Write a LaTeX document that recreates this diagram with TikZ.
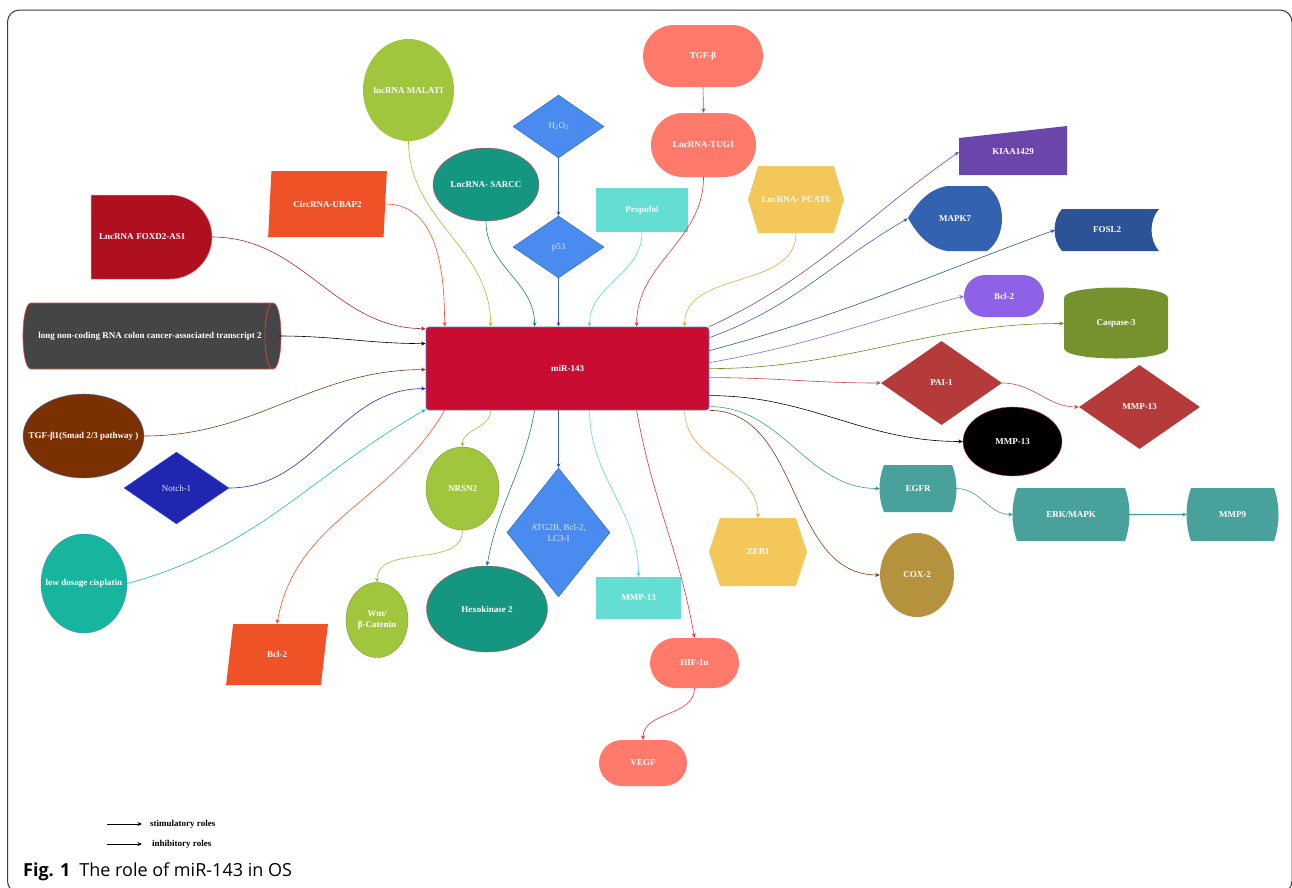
\documentclass[tikz,border=0pt]{standalone}
\usepackage{fontspec}
\setmainfont{Liberation Serif}
\newfontfamily\captionfont{Open Sans}
\usetikzlibrary{shapes.geometric,shapes.misc,shapes.symbols,arrows.meta}

\definecolor{mirred}{HTML}{C80C32}
\definecolor{miredge}{HTML}{5B7FD6}
\definecolor{limegreen}{HTML}{A0C63E}
\definecolor{limeedge}{HTML}{7A9A2A}
\definecolor{limeline}{HTML}{9AC03A}
\definecolor{skyblue}{HTML}{4A8BF0}
\definecolor{skyedge}{HTML}{2F5FB0}
\definecolor{skyline}{HTML}{3D5FA8}
\definecolor{seateal}{HTML}{149680}
\definecolor{tealline}{HTML}{1F7A8C}
\definecolor{salmon}{HTML}{FF7A6A}
\definecolor{salmonline}{HTML}{D8383A}
\definecolor{turq}{HTML}{64DDD2}
\definecolor{turqline}{HTML}{5ED6D0}
\definecolor{mustard}{HTML}{F3C75A}
\definecolor{mustardline}{HTML}{E0A640}
\definecolor{orangered}{HTML}{F05228}
\definecolor{foxdred}{HTML}{AE1020}
\definecolor{foxdedge}{HTML}{E88890}
\definecolor{foxdline}{HTML}{B0203A}
\definecolor{lncgrey}{HTML}{454545}
\definecolor{thinred}{HTML}{E04848}
\definecolor{smadbrown}{HTML}{7A3000}
\definecolor{brownline}{HTML}{7A3A12}
\definecolor{ovaledge}{HTML}{4A80E0}
\definecolor{notchblue}{HTML}{2026B0}
\definecolor{notchedge}{HTML}{3A60E0}
\definecolor{notchline}{HTML}{2A2AB8}
\definecolor{cisteal}{HTML}{18B59E}
\definecolor{cisline}{HTML}{20B8A0}
\definecolor{kiaapurple}{HTML}{6A45AA}
\definecolor{kiaaline}{HTML}{7A40B8}
\definecolor{mapkblue}{HTML}{3362B0}
\definecolor{foslblue}{HTML}{2B5396}
\definecolor{bclpurple}{HTML}{8E62E6}
\definecolor{casolive}{HTML}{76922E}
\definecolor{casline}{HTML}{6A8A20}
\definecolor{paired}{HTML}{B53A3A}
\definecolor{pailine}{HTML}{C04848}
\definecolor{egfrteal}{HTML}{48A19A}
\definecolor{egfrline}{HTML}{3A9A95}
\definecolor{coxgold}{HTML}{B5923E}
\definecolor{paletext}{HTML}{DCE6FF}
\definecolor{framegrey}{HTML}{3A3A3A}

\newcommand{\tight}[1]{\makebox[0pt]{#1}}

\begin{document}
\begin{tikzpicture}[x=1pt,y=-1pt,
  txt/.style={text=white,font=\bfseries\fontsize{9}{11}\selectfont,inner sep=1pt,align=center},
  pale/.style={text=paletext,font=\fontsize{9}{11}\selectfont,inner sep=1pt,align=center},
  arr/.style={-{Stealth[length=4.5pt,width=4pt]},line width=0.6pt},
  pill/.style={rounded rectangle},
  hexa/.style={signal,signal from=nowhere,signal to=east and west,signal pointer angle=#1},
  slanted/.style={trapezium,trapezium left angle=#1,trapezium stretches=true},
  legendtxt/.style={anchor=west,inner sep=0pt,font=\bfseries\fontsize{9}{10}\selectfont},
]
	% Set the page to the size of the figure
	\useasboundingbox (0,0) rectangle (1292,887);

	% Rounded frame round the figure
	\draw[framegrey, line width=1pt, rounded corners=12pt] (7.5,10) rectangle (1292,893);

	% Shapes that TikZ has no node for: drawn first, labels go on top
	% LncRNA FOXD2-AS1 (D shape)
	\filldraw[fill=foxdred, draw=foxdedge, line width=0.5pt] (91,195) -- (170,195) .. controls (193,195) and (212,214) .. (212,237) .. controls (212,260) and (193,279) .. (170,279) -- (91,279) -- cycle;
	% Lying cylinder
	\filldraw[fill=lncgrey, draw=thinred, line width=0.6pt] (31,303) -- (273,303) .. controls (283.7,303) and (283.7,369) .. (273,369) -- (31,369) .. controls (20.3,369) and (20.3,303) .. (31,303) -- cycle;
	\draw[thinred, line width=0.6pt] (273,303) .. controls (262.3,303) and (262.3,369) .. (273,369);
	% KIAA1429 (slanted top)
	\fill[kiaapurple] (959,138) -- (1067,126) -- (1067,175) -- (959,175) -- cycle;
	% MAPK7 (display)
	\fill[mapkblue] (908,218) .. controls (918,201) and (930,189) .. (947,186) -- (987,186) .. controls (1007,200) and (1007,237) .. (987,251) -- (947,251) .. controls (930,248) and (918,236) .. (908,218) -- cycle;
	% FOSL2 (stored data)
	\fill[foslblue] (1062,209) -- (1159,209) .. controls (1149,220) and (1149,240) .. (1159,251) -- (1062,251) .. controls (1052,240) and (1052,220) .. (1062,209) -- cycle;
	% Caspase-3 (standing cylinder)
	\fill[casolive] (1064,298) .. controls (1064,284) and (1168,284) .. (1168,298) -- (1168,348) .. controls (1168,362) and (1064,362) .. (1064,348) -- cycle;
	% EGFR, ERK/MAPK, MMP9 (boxes with bulging ends)
	\fill[egfrteal] (884,465) -- (952,465) .. controls (958,480) and (958,497) .. (952,512) -- (884,512) .. controls (878,497) and (878,480) .. (884,465) -- cycle;
	\fill[egfrteal] (1017,488) -- (1125,488) .. controls (1131,505) and (1131,524) .. (1125,541) -- (1017,541) .. controls (1011,524) and (1011,505) .. (1017,488) -- cycle;
	\fill[egfrteal] (1191,488) -- (1274,488) .. controls (1280,505) and (1280,524) .. (1274,541) -- (1191,541) .. controls (1185,524) and (1185,505) .. (1191,488) -- cycle;

	% Centre
	\node[txt, rectangle, rounded corners=3pt, fill=mirred, draw=miredge, line width=0.8pt, minimum width=283pt, minimum height=83pt] (mir) at (567.5,368.5) {miR-143};

	% Top row
	\node[txt, ellipse, fill=limegreen, minimum width=91pt, minimum height=102pt] (malat) at (408.5,90) {\tight{lncRNA MALATI}};
	\node[pale, diamond, fill=skyblue, draw=skyedge, minimum width=91pt, minimum height=63pt] (hoo) at (558.5,126.5) {H\textsubscript{2}O\textsubscript{2}};
	\node[pale, diamond, fill=skyblue, draw=skyedge, minimum width=91pt, minimum height=62pt] (p53) at (558.5,247) {p53};
	\node[txt, ellipse, fill=seateal, draw=thinred, minimum width=106pt, minimum height=73pt] (sarcc) at (486,184.5) {\tight{LncRNA- SARCC}};
	\node[txt, pill, fill=salmon, minimum width=122pt, minimum height=62pt] (tgfb) at (703,56) {TGF-β};
	\node[txt, pill, fill=salmon, minimum width=107pt, minimum height=64pt] (tug) at (703.5,145) {\tight{LncRNA-TUG1}};
	\node[txt, rectangle, fill=turq, minimum width=92pt, minimum height=44pt] (propofol) at (642,210) {Propofol};
	\node[txt, hexa=146, fill=mustard, minimum width=96pt, minimum height=67pt] (pcat) at (796,199.5) {LncRNA- PCAT6};
	\node[txt, slanted=76, trapezium right angle=104, fill=orangered, minimum width=119pt, minimum height=66pt] (circ) at (327.5,204) {CircRNA-UBAP2};
	\node[txt, minimum width=121pt, minimum height=84pt, text width=105pt, align=left] (foxd) at (151.5,237) {LncRNA FOXD2-AS1};

	% Left column
	\node[txt, minimum width=258pt, minimum height=66pt] (lncc) at (150,336) {long non-coding RNA colon cancer-associated transcript 2};
	\node[txt, ellipse, fill=smadbrown, draw=ovaledge, minimum width=121pt, minimum height=84pt] (smad) at (83.5,436) {\tight{TGF-β1(Smad 2/3 pathway )}};
	\node[pale, diamond, fill=notchblue, draw=notchedge, minimum width=105pt, minimum height=72pt] (notch) at (176.5,488) {Notch-1};
	\node[txt, ellipse, fill=cisteal, draw=ovaledge, minimum width=86pt, minimum height=99pt] (cis) at (84,583.5) {\tight{low dosage cisplatin}};

	% Right side
	\node[txt, minimum width=108pt, minimum height=49pt] (kiaa) at (1013,152) {KIAA1429};
	\node[txt, minimum width=94pt, minimum height=65pt] (mapk) at (955,218.5) {MAPK7};
	\node[txt, minimum width=104pt, minimum height=42pt] (fosl) at (1107,230) {FOSL2};
	\node[txt, pill, fill=bclpurple, minimum width=82pt, minimum height=42pt] (bclup) at (1004,296) {Bcl-2};
	\node[txt, minimum width=104pt, minimum height=69pt] (casp) at (1116,323.5) {Caspase-3};
	\node[txt, diamond, fill=paired, minimum width=121pt, minimum height=84pt] (pai) at (941.5,383) {PAI-1};
	\node[txt, diamond, fill=paired, minimum width=121pt, minimum height=84pt] (mmpd) at (1139.5,407) {MMP-13};
	\node[txt, ellipse, fill=black, draw=thinred, minimum width=99pt, minimum height=69pt] (mmpe) at (1012.5,441.5) {MMP-13};
	\node[txt, minimum width=76pt, minimum height=47pt] (egfr) at (918,488.5) {EGFR};
	\node[txt, minimum width=116pt, minimum height=53pt] (erk) at (1071,514.5) {ERK/MAPK};
	\node[txt, minimum width=91pt, minimum height=53pt] (mmpnine) at (1232.5,514.5) {MMP9};
	\node[txt, ellipse, fill=coxgold, minimum width=74pt, minimum height=84pt] (cox) at (917,575) {COX-2};

	% Bottom row
	\node[txt, slanted=78, trapezium right angle=102, fill=orangered, minimum width=102pt, minimum height=61pt] (bcldown) at (277,654.5) {Bcl-2};
	\node[txt, ellipse, fill=limegreen, draw=limeedge, minimum width=62pt, minimum height=75pt] (wnt) at (377,620) {Wnt/\\β-Catenin};
	\node[txt, ellipse, fill=limegreen, draw=limeedge, minimum width=73pt, minimum height=83pt] (nrsn) at (462.5,488.5) {NRSN2};
	\node[txt, ellipse, fill=seateal, draw=thinred, minimum width=121pt, minimum height=86pt] (hexo) at (487,609) {Hexokinase 2};
	\node[pale, diamond, fill=skyblue, draw=skyedge, minimum width=103pt, minimum height=129pt] (atg) at (558.5,532.5) {ATG2B, Bcl-2,\\LC3-I};
	\node[txt, rectangle, fill=turq, minimum width=85pt, minimum height=42pt] (mmpr) at (638.5,598) {MMP-13};
	\node[txt, pill, fill=salmon, minimum width=91pt, minimum height=50pt] (hif) at (694.5,663) {HIF-1α};
	\node[txt, pill, fill=salmon, minimum width=90pt, minimum height=46pt] (vegf) at (643,763) {VEGF};
	\node[txt, hexa=144, fill=mustard, minimum width=98pt, minimum height=68pt] (zeb) at (758,552) {ZEB1};

	% Arrows into miR-143 from above
	\draw[arr, orangered] (circ.east) to[out=0,in=90] ([xshift=19pt]mir.north west);
	\draw[arr, limeline] (malat.south) to[out=-90,in=90] ([xshift=65pt]mir.north west);
	\draw[arr, tealline] (sarcc.south) to[out=-90,in=90] ([xshift=109pt]mir.north west);
	\draw[arr, skyline] (hoo.south) -- (p53.north);
	\draw[arr, skyline] (p53.south) -- (p53.south |- mir.north);
	\draw[arr, turqline] (propofol.south) to[out=-90,in=90] ([xshift=164pt]mir.north west);
	\draw[arr, salmonline] (tgfb.south) -- (tug.north);
	\draw[arr, salmonline] (tug.south) to[out=-90,in=90] ([xshift=211pt]mir.north west);
	\draw[arr, mustardline] (pcat.south) to[out=-90,in=90] ([xshift=259pt]mir.north west);

	% Arrows into miR-143 from the left
	\draw[arr, foxdline] (foxd.east) to[out=0,in=180] ([yshift=-2pt]mir.north west);
	\draw[arr, black] (lncc.east) to[out=0,in=180] ([yshift=-17pt]mir.north west);
	\draw[arr, brownline] (smad.east) to[out=0,in=180] ([yshift=-43pt]mir.north west);
	\draw[arr, notchline] (notch.east) to[out=0,in=180] ([yshift=-62pt]mir.north west);
	\draw[arr, cisline] (cis.east) to[out=15,in=210] ([yshift=1pt]mir.south west);

	% Arrows out of miR-143 to the right
	\draw[arr, kiaaline] (mir.north east) to[out=25,in=215] (kiaa.west);
	\draw[arr, mapkblue] ([yshift=-11pt]mir.north east) to[out=20,in=210] (mapk.west);
	\draw[arr, foslblue] ([yshift=-24pt]mir.north east) to[out=15,in=200] (fosl.west);
	\draw[arr, bclpurple] ([yshift=-36pt]mir.north east) to[out=10,in=195] (bclup.west);
	\draw[arr, casline] ([yshift=-42pt]mir.north east) to[out=0,in=180] (casp.west);
	\draw[arr, pailine] ([yshift=-51pt]mir.north east) to[out=0,in=180] (pai.west);
	\draw[arr, pailine] (pai.east) to[out=0,in=180] (mmpd.west);
	\draw[arr, black] ([yshift=-69pt]mir.north east) to[out=0,in=180] (mmpe.west);
	\draw[arr, egfrline] ([yshift=-80pt]mir.north east) to[out=0,in=180] (egfr.west);
	\draw[arr, egfrline] (egfr.east) to[out=0,in=180] (erk.west);
	\draw[arr, egfrline] (erk.east) -- (mmpnine.west);
	\draw[arr, brownline] (mir.south east) to[out=0,in=180] (cox.west);

	% Arrows out of miR-143 downwards
	\draw[arr, orangered] ([xshift=19pt]mir.south west) to[out=-120,in=80] (bcldown.north);
	\draw[arr, limeline] ([xshift=65pt]mir.south west) to[out=-90,in=90] (nrsn.north);
	\draw[arr, limeline] (nrsn.south) to[out=-90,in=90] (wnt.north);
	\draw[arr, tealline] ([xshift=109pt]mir.south west) to[out=-100,in=80] (hexo.north);
	\draw[arr, skyline] (atg.north |- mir.south) -- (atg.north);
	\draw[arr, turqline] ([xshift=164pt]mir.south west) to[out=-90,in=90] (mmpr.north);
	\draw[arr, salmonline] ([xshift=211pt]mir.south west) to[out=-80,in=100] (hif.north);
	\draw[arr, salmonline] (hif.south) to[out=-90,in=90] (vegf.north);
	\draw[arr, mustardline] ([xshift=259pt]mir.south west) to[out=-90,in=90] (zeb.north);

	% Legend
	\coordinate (stimstart) at (107,824);
	\coordinate (inhstart) at (107,844);
	\node[legendtxt] (stimtext) at (150,824) {stimulatory roles};
	\node[legendtxt] (inhtext) at (152,844) {inhibitory roles};
	\draw[arr, black, shorten >=8pt] (stimstart) -- (stimtext.west);
	\draw[arr, black, shorten >=10pt] (inhstart) -- (inhtext.west);

	% Caption
	\node[anchor=base west, inner sep=0pt, font=\captionfont\fontsize{18}{21}\selectfont] (caption) at (23,876) {\textbf{Fig. 1}\hspace{0.5em}The role of miR-143 in OS};
\end{tikzpicture}
\end{document}
